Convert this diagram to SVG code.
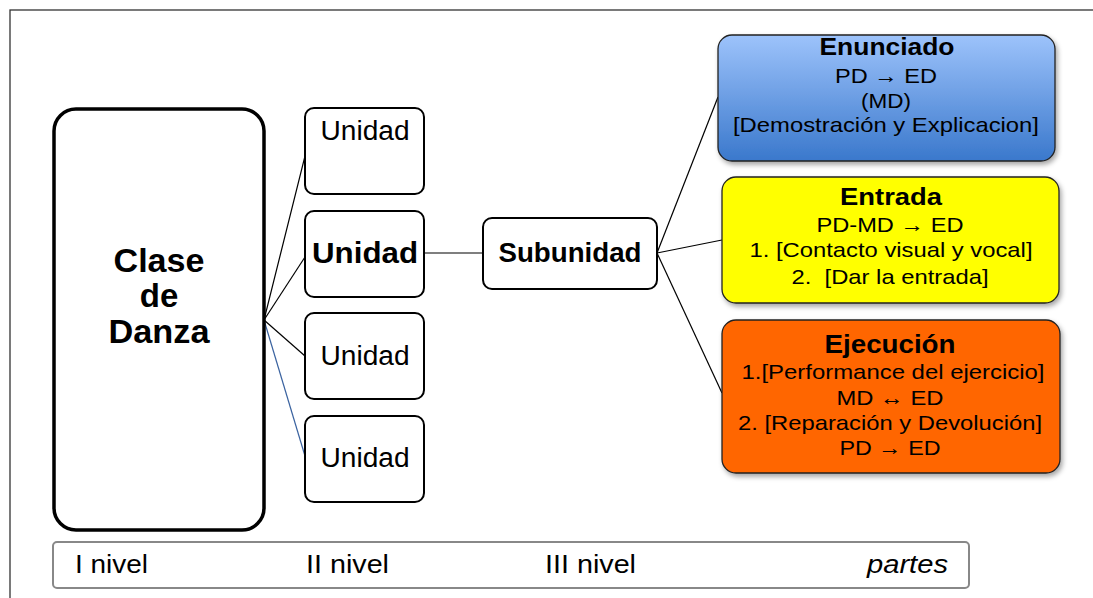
<svg xmlns="http://www.w3.org/2000/svg" width="1093" height="598" viewBox="0 0 1093 598">
<style>
text{font-family:"Liberation Sans",Arial,sans-serif;fill:#000;text-anchor:middle}
.b{font-weight:bold}
.box{fill:#fff;stroke:#000;stroke-width:2}
.conn line{stroke:#000;stroke-width:1.2}
.t{font-size:21px}
.h{font-size:23px;font-weight:bold}
.lv{font-size:25px;text-anchor:start}
</style>
<defs>
<linearGradient id="gb" x1="0" y1="0" x2="0" y2="1">
<stop offset="0" stop-color="#9DC3FB"/>
<stop offset="1" stop-color="#3A78CC"/>
</linearGradient>
<filter id="sh" x="-10%" y="-10%" width="125%" height="130%">
<feDropShadow dx="2" dy="3" stdDeviation="2.5" flood-color="#000" flood-opacity="0.35"/>
</filter>
</defs>
<rect width="1093" height="598" fill="#fff"/>
<rect x="10" y="10" width="1100" height="600" fill="none" stroke="#333" stroke-width="1.3"/>
<g class="conn">
<line x1="264" y1="320" x2="305" y2="156"/>
<line x1="264" y1="320" x2="305" y2="257"/>
<line x1="264" y1="320" x2="305" y2="356"/>
<line x1="264" y1="320" x2="305" y2="456" style="stroke:#3B63A0"/>
<line x1="424" y1="253" x2="483" y2="253"/>
<line x1="657" y1="253" x2="718" y2="97"/>
<line x1="657" y1="253" x2="722" y2="240"/>
<line x1="657" y1="253" x2="722" y2="393"/>
</g>
<g id="clase">
<rect x="54" y="109" width="210" height="421" rx="22" class="box" style="stroke-width:3.5"/>
<text x="159" y="272" class="b" font-size="33" textLength="91" lengthAdjust="spacingAndGlyphs">Clase</text>
<text x="159" y="307" class="b" font-size="33">de</text>
<text x="159" y="343" class="b" font-size="33" textLength="101" lengthAdjust="spacingAndGlyphs">Danza</text>
</g>
<g id="unidad1">
<rect x="305" y="108" width="119" height="86" rx="9" class="box"/>
<text x="365" y="140" font-size="27" textLength="89" lengthAdjust="spacingAndGlyphs">Unidad</text>
</g>
<g id="unidad2">
<rect x="305" y="211" width="119" height="86" rx="9" class="box"/>
<text x="365" y="263" class="b" font-size="30" textLength="106" lengthAdjust="spacingAndGlyphs">Unidad</text>
</g>
<g id="unidad3">
<rect x="305" y="313" width="119" height="86" rx="9" class="box"/>
<text x="365" y="365" font-size="27" textLength="89" lengthAdjust="spacingAndGlyphs">Unidad</text>
</g>
<g id="unidad4">
<rect x="305" y="416" width="119" height="86" rx="9" class="box"/>
<text x="365" y="467" font-size="27" textLength="89" lengthAdjust="spacingAndGlyphs">Unidad</text>
</g>
<g id="subunidad">
<rect x="483" y="218" width="174" height="71" rx="9" class="box"/>
<text x="570" y="262" class="b" font-size="27" textLength="143" lengthAdjust="spacingAndGlyphs">Subunidad</text>
</g>
<g id="enunciado">
<rect x="718" y="35" width="337" height="126" rx="14" fill="url(#gb)" stroke="#222" stroke-width="1.3" filter="url(#sh)"/>
<text x="887" y="55" class="h" textLength="135" lengthAdjust="spacingAndGlyphs">Enunciado</text>
<text x="886" y="83" class="t" textLength="102" lengthAdjust="spacingAndGlyphs">PD → ED</text>
<text x="886" y="108" class="t" textLength="50" lengthAdjust="spacingAndGlyphs">(MD)</text>
<text x="886" y="132" class="t" textLength="306" lengthAdjust="spacingAndGlyphs">[Demostración y Explicacion]</text>
</g>
<g id="entrada">
<rect x="722" y="177" width="337" height="126" rx="14" fill="#FFFF00" stroke="#222" stroke-width="1.3" filter="url(#sh)"/>
<text x="891" y="205" class="h" textLength="102" lengthAdjust="spacingAndGlyphs">Entrada</text>
<text x="890" y="232" class="t" textLength="147" lengthAdjust="spacingAndGlyphs">PD-MD → ED</text>
<text x="891" y="257" class="t" textLength="283" lengthAdjust="spacingAndGlyphs">1. [Contacto visual y vocal]</text>
<text x="890" y="284" class="t" textLength="197" lengthAdjust="spacingAndGlyphs" xml:space="preserve">2.  [Dar la entrada]</text>
</g>
<g id="ejecucion">
<rect x="722" y="320" width="338" height="153" rx="14" fill="#FF6600" stroke="#222" stroke-width="1.3" filter="url(#sh)"/>
<text x="890" y="353" class="h" font-size="25" textLength="131" lengthAdjust="spacingAndGlyphs" style="font-size:25px">Ejecución</text>
<text x="893" y="379" class="t" textLength="303" lengthAdjust="spacingAndGlyphs">1.[Performance del ejercicio]</text>
<text x="890" y="405" class="t" textLength="107" lengthAdjust="spacingAndGlyphs">MD ↔ ED</text>
<text x="890" y="430" class="t" textLength="304" lengthAdjust="spacingAndGlyphs">2. [Reparación y Devolución]</text>
<text x="890" y="455" class="t" textLength="101" lengthAdjust="spacingAndGlyphs">PD → ED</text>
</g>
<g id="niveles">
<rect x="53" y="542" width="916" height="46" rx="4" fill="#fff" stroke="#888" stroke-width="2"/>
<text x="75" y="573" class="lv" textLength="73" lengthAdjust="spacingAndGlyphs">I nivel</text>
<text x="306" y="573" class="lv" textLength="83" lengthAdjust="spacingAndGlyphs">II nivel</text>
<text x="545" y="573" class="lv" textLength="91" lengthAdjust="spacingAndGlyphs">III nivel</text>
<text x="867" y="573" class="lv" font-style="italic" textLength="81" lengthAdjust="spacingAndGlyphs">partes</text>
</g>
</svg>
